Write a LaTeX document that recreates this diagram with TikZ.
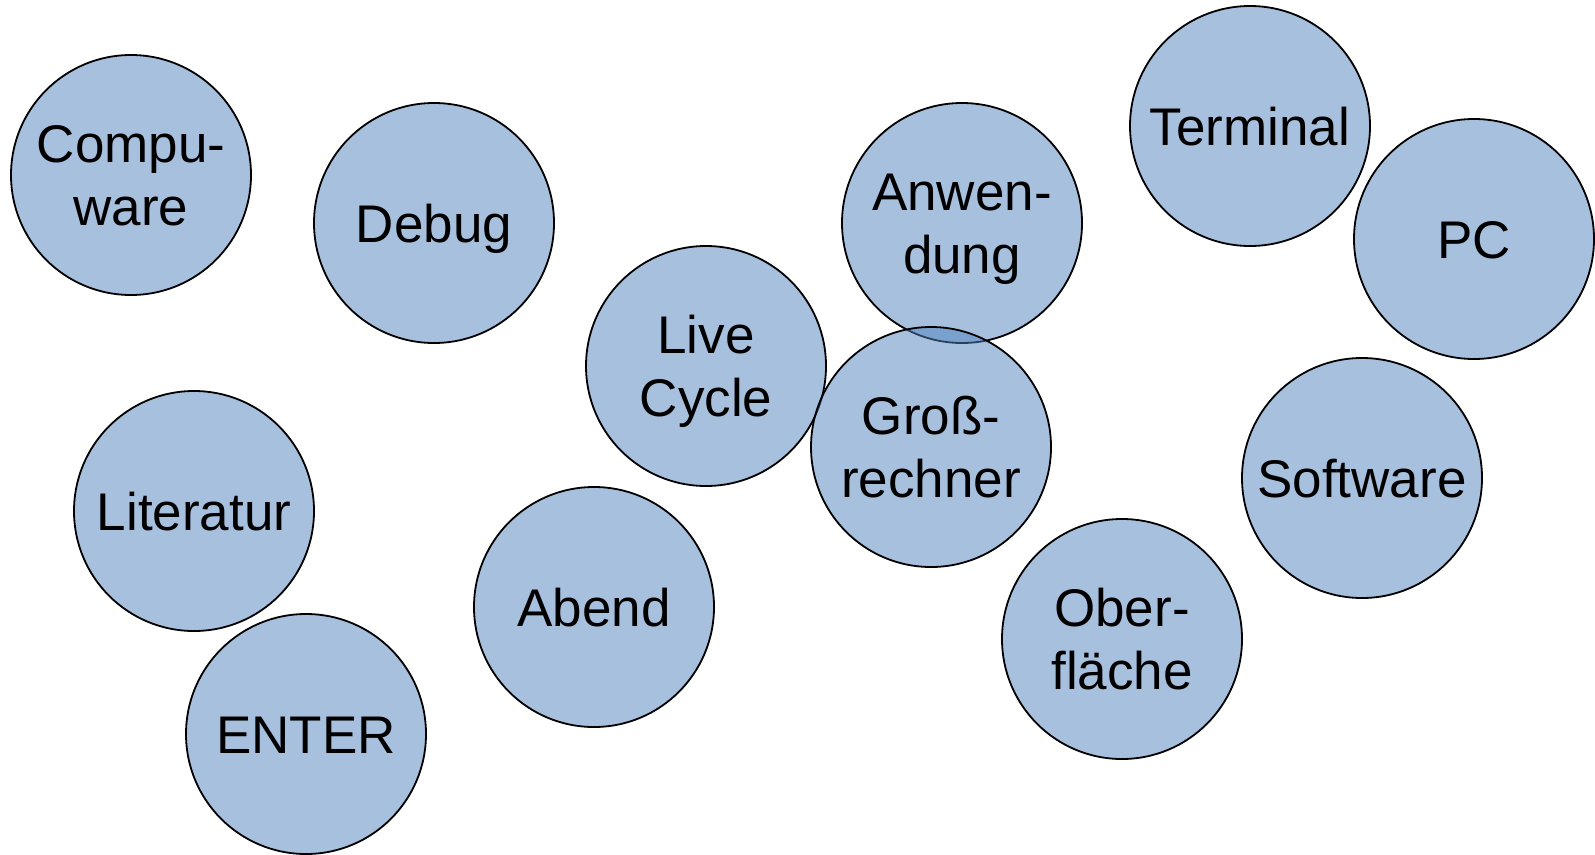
\documentclass[tikz,border=0pt]{standalone}
\usepackage{fontspec}
\setmainfont{Liberation Sans}
\definecolor{bubblefill}{HTML}{4F81BD}
\tikzset{
  bubble/.style={circle, draw=black, line width=1.8pt, fill=bubblefill, fill opacity=0.5, text opacity=1,
    minimum size=240pt, inner sep=0pt, align=center,
    font=\fontsize{53}{63}\selectfont, text height=38pt, text depth=0pt},
  twoline/.style={text height=101pt, text depth=0pt}
}
\begin{document}
\begin{tikzpicture}[x=1pt,y=-1pt]
\useasboundingbox (0,0) rectangle (1595,854);
\node[bubble,twoline] (compuware) at (131,175) {Compu-\\ware};
\node[bubble] (debug) at (434,223) {Debug};
\node[bubble] (literatur) at (194,511) {Literatur};
\node[bubble] (enter) at (306,734) {ENTER};
\node[bubble,twoline] (livecycle) at (706,366) {Live\\Cycle};
\node[bubble] (abend) at (594,607) {Abend};
\node[bubble,twoline] (anwendung) at (962,223) {Anwen-\\dung};
\node[bubble,twoline] (grossrechner) at (931,447) {Groß-\\rechner};
\node[bubble,twoline] (oberflaeche) at (1122,639) {Ober-\\fläche};
\node[bubble] (terminal) at (1250,126) {Terminal};
\node[bubble] (pc) at (1474,239) {PC};
\node[bubble] (software) at (1362,478) {Software};
\end{tikzpicture}
\end{document}
